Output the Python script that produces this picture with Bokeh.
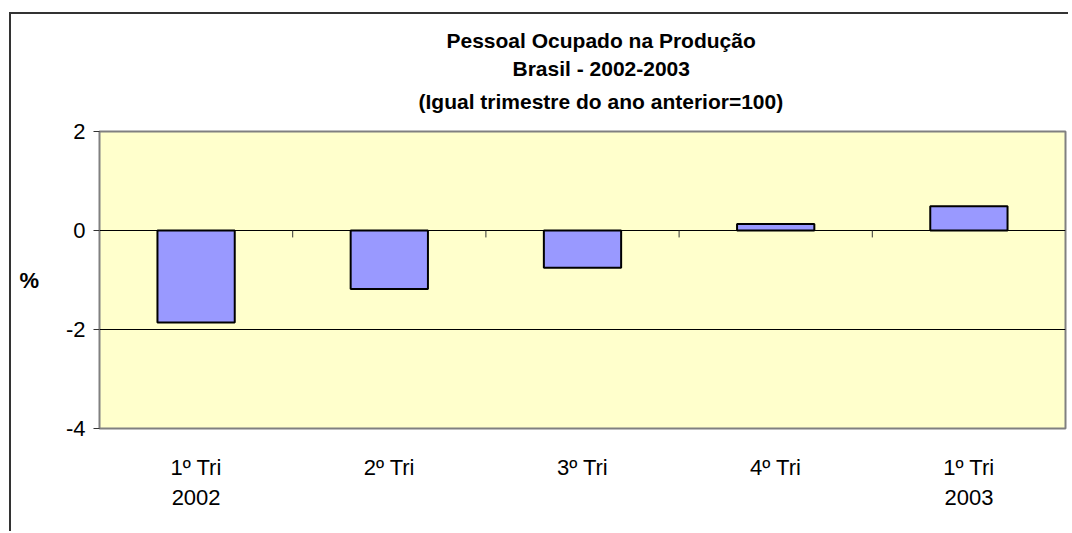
from bokeh.plotting import figure
from bokeh.models import FixedTicker, LinearAxis, Title, Range1d
from bokeh.embed import file_html
from bokeh.resources import INLINE

# Data
quarters = ["1º Tri", "2º Tri", "3º Tri", "4º Tri", "1º Tri"]
years = ["2002", "", "", "", "2003"]
values = [-1.86, -1.18, -0.75, 0.13, 0.49]
y_ticks = [-4, -2, 0, 2]
title_lines = ["Pessoal Ocupado na Produção", "Brasil - 2002-2003",
               "(Igual trimestre do ano anterior=100)"]

FONT = "Liberation Sans"
W, H = 1059, 519
xs = [i + 0.5 for i in range(len(values))]
bounds = [i for i in range(1, len(values))]

p = figure(width=W, height=H, output_backend="svg", toolbar_location=None,
           x_range=Range1d(0, len(values)), y_range=Range1d(-4, 2),
           min_border_left=88, min_border_right=5, min_border_top=117,
           min_border_bottom=105, x_axis_location=None)
p.styles = {"box-shadow": "-2px -2px 0px 0px #333333",
            "margin-top": "14px", "margin-left": "11px"}

p.background_fill_color = "#FFFFCC"
p.border_fill_color = "white"
p.outline_line_color = "#808080"
p.outline_line_width = 2

# grid
p.xgrid.visible = False
p.ygrid.ticker = FixedTicker(ticks=[-2, 0])
p.ygrid.grid_line_color = "#000000"
p.ygrid.grid_line_width = 1

# y axis
ya = p.yaxis[0]
ya.ticker = FixedTicker(ticks=y_ticks)
ya.major_label_overrides = {t: str(t) for t in y_ticks}
ya.minor_tick_line_color = None
ya.major_tick_in = 0
ya.major_tick_out = 6
ya.major_tick_line_color = "#333333"
ya.axis_line_color = "#808080"
ya.major_label_text_font = FONT
ya.major_label_text_font_size = "22px"
ya.major_label_text_color = "black"
ya.major_label_standoff = 8
ya.axis_label = "%"
ya.axis_label_orientation = "horizontal"
ya.axis_label_text_font = FONT
ya.axis_label_text_font_size = "22px"
ya.axis_label_text_font_style = "bold"
ya.axis_label_text_color = "black"
ya.axis_label_standoff = 24

# category label axes
def cat_axis(labels, standoff):
    ax = LinearAxis(ticker=FixedTicker(ticks=xs),
                    major_label_overrides={x: l for x, l in zip(xs, labels)})
    ax.axis_line_color = None
    ax.major_tick_line_color = None
    ax.minor_tick_line_color = None
    ax.major_tick_in = 0
    ax.major_tick_out = 0
    ax.major_label_text_font = FONT
    ax.major_label_text_font_size = "22px"
    ax.major_label_text_color = "black"
    ax.major_label_standoff = standoff
    return ax

p.add_layout(cat_axis(quarters, 26), "below")
p.add_layout(cat_axis(years, 7), "below")

# bars
p.vbar(x=xs, top=values, bottom=0, width=0.4, fill_color="#9999FF",
       line_color="black", line_width=2)

# tick marks on zero line at category boundaries
p.segment(x0=bounds, y0=[0] * len(bounds), x1=bounds, y1=[-0.14] * len(bounds),
          line_color="#333333", line_width=1)

# spacer between plot area and title block
p.add_layout(Title(text=" ", standoff=2, text_font=FONT, text_font_size="10px",
                   text_color="white"), "above")

# title lines (added bottom-up); left-aligned with offsets to center them at the chart-area centre
offsets = [347, 413, 319]
standoffs = [0, 7, 8]
for text, off, so in reversed(list(zip(title_lines, offsets, standoffs))):
    p.add_layout(Title(text=text, align="left", offset=off, standoff=so,
                       text_font=FONT, text_font_size="21px",
                       text_font_style="bold", text_color="black"), "above")

open("out.html", "w").write(file_html(p, INLINE))
